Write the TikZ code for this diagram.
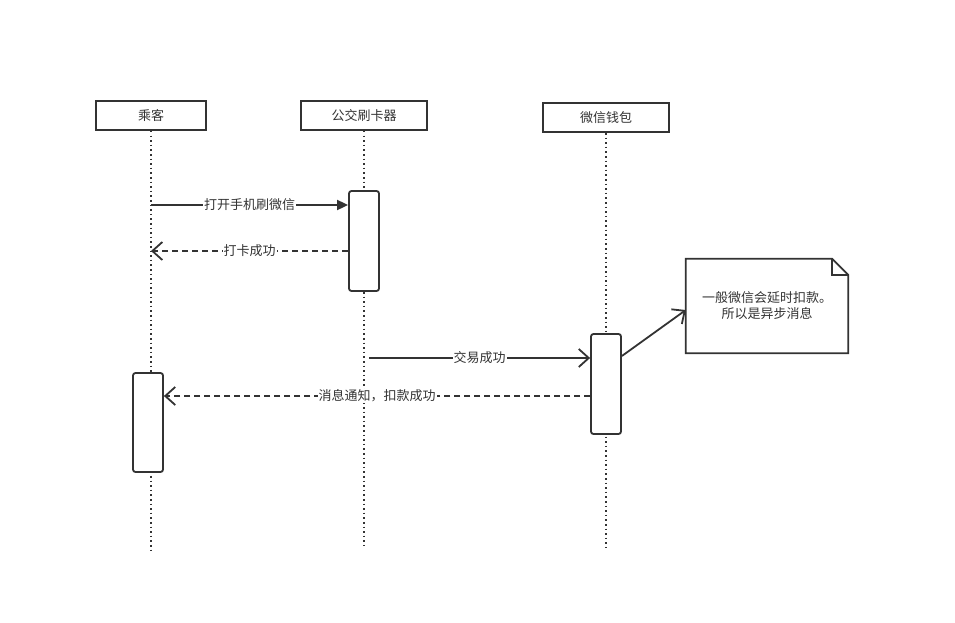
\documentclass[tikz,border=0pt]{standalone}
\usepackage{fontspec}
\setmainfont{Noto Sans CJK SC}
\usetikzlibrary{arrows.meta,calc}
\definecolor{ink}{HTML}{333333}
\begin{document}
\begin{tikzpicture}[x=1pt,y=-1pt,
  font=\fontsize{13}{16}\selectfont, text=ink,
  actor/.style={draw=ink,line width=1.8pt,fill=white,minimum width=110pt,minimum height=29pt,inner sep=0pt},
  actbox/.style={draw=ink,line width=1.8pt,fill=white,rounded corners=2.5pt,minimum width=30pt,minimum height=100pt,inner sep=0pt},
  life/.style={draw=ink,line width=1.6pt,dash pattern=on 1.6pt off 3pt},
  msg/.style={draw=ink,line width=1.8pt},
  ret/.style={draw=ink,line width=1.8pt,dash pattern=on 6pt off 4pt},
  opentip/.style={-{Straight Barb[length=10pt,width=18pt,line width=1.8pt]}},
  filltip/.style={-{Triangle[length=11pt,width=10pt]}},
  lbl/.style={fill=white,inner sep=1pt,midway}]
\useasboundingbox (0,0) rectangle (955,623);
% actors
\node[actor] (pass) at (151,115.5) {乘客};
\node[actor,minimum width=126pt] (reader) at (364,115.5) {公交刷卡器};
\node[actor,minimum width=126pt] (wallet) at (606,117.5) {微信钱包};
% lifeline ends
\coordinate (e1) at (151,552);
\coordinate (e2) at (364,546);
\coordinate (e3) at (606,548);
\draw[life] (pass.south) -- (e1);
\draw[life] (reader.south) -- (e2);
\draw[life] (wallet.south) -- (e3);
% activations
\node[actbox] (A1) at (364,241) {};
\node[actbox] (A2) at (606,384) {};
\node[actbox,minimum height=99pt] (A3) at (148,422.5) {};
% message rows
\coordinate (y1) at (0,205);
\coordinate (y2) at (0,251);
\coordinate (y3) at (0,358);
\coordinate (y4) at (0,396);
\coordinate (s3) at (369,358);
\draw[msg,filltip] (pass |- y1) -- node[lbl] {打开手机刷微信} (A1.west |- y1);
\draw[ret,opentip] (A1.west |- y2) -- node[lbl] {打卡成功} (pass |- y2);
\draw[msg,opentip] (s3) -- node[lbl] {交易成功} (A2.west |- y3);
\draw[ret,opentip] (A2.west |- y4) -- node[lbl] {消息通知，扣款成功} (A3.east |- y4);
% note
\node[minimum width=162pt,minimum height=94pt,inner sep=0pt,align=center] (note) at (767,306)
  {一般微信会延时扣款。\\所以是异步消息};
\draw[draw=ink,line width=1.8pt,line join=miter]
  (note.north west) -- ($(note.north east)+(-16,0)$) -- ($(note.north east)+(0,16)$)
  -- (note.south east) -- (note.south west) -- cycle;
\draw[draw=ink,line width=1.8pt]
  ($(note.north east)+(-16,0)$) -- ($(note.north east)+(-16,16)$) -- ($(note.north east)+(0,16)$);
\coordinate (n1) at (0,356);
\coordinate (n2) at (0,310);
\draw[msg,opentip] (A2.east |- n1) -- (note.west |- n2);
\end{tikzpicture}
\end{document}
